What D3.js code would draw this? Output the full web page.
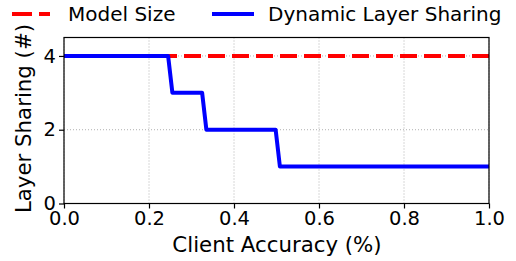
<!DOCTYPE html>
<html>
<head>
<meta charset="utf-8">
<script src="https://cdn.jsdelivr.net/npm/d3@7"></script>
<style>
  body { margin: 0; background: #fff; }
  text { font-family: "DejaVu Sans", sans-serif; fill: #000; }
</style>
</head>
<body>
<div id="chart"></div>
<script>
// values
var modelSize = [{x: 0, y: 4}, {x: 1, y: 4}]
var layerSharing = [
  {x: 0.0, y: 4}, {x: 0.245, y: 4}, {x: 0.255, y: 3},
  {x: 0.325, y: 3}, {x: 0.335, y: 2}, {x: 0.498, y: 2},
  {x: 0.508, y: 1}, {x: 1.0, y: 1}
]
var xTicks = [0, 0.2, 0.4, 0.6, 0.8, 1.0]
var yTicks = [0, 2, 4]
var legendItems = [
  {label: "Model Size", color: "#ff0000", dash: "20,7"},
  {label: "Dynamic Layer Sharing", color: "#0000ff", dash: null}
]

var W = 516, H = 261
var margin = {top: 37.5, right: 27, bottom: 57.5, left: 64},
    width = W - margin.left - margin.right,
    height = H - margin.top - margin.bottom

var svg = d3.select("#chart")
  .append("svg")
    .attr("width", W)
    .attr("height", H)

var g = svg.append("g")
    .attr("transform", "translate(" + margin.left + "," + margin.top + ")")

var x = d3.scaleLinear().domain([0, 1]).range([0, width])
var y = d3.scaleLinear().domain([0, 4.5]).range([height, 0])

// grid
g.append("g").selectAll("line")
  .data(xTicks)
  .enter().append("line")
    .attr("x1", d => x(d)).attr("x2", d => x(d))
    .attr("y1", 0).attr("y2", height)
    .attr("stroke", "#b0b0b0")
    .attr("stroke-width", 1)
    .attr("stroke-dasharray", "1,2")
g.append("g").selectAll("line")
  .data(yTicks)
  .enter().append("line")
    .attr("x1", 0).attr("x2", width)
    .attr("y1", d => y(d)).attr("y2", d => y(d))
    .attr("stroke", "#b0b0b0")
    .attr("stroke-width", 1)
    .attr("stroke-dasharray", "1,2")

// axes
var xAxis = g.append("g")
  .attr("transform", "translate(0," + height + ")")
  .call(d3.axisBottom(x).tickValues(xTicks).tickFormat(d3.format(".1f")).tickSizeOuter(0).tickSize(5).tickPadding(3))
var yAxis = g.append("g")
  .call(d3.axisLeft(y).tickValues(yTicks).tickFormat(d3.format("d")).tickSizeOuter(0).tickSize(5).tickPadding(3))

;[xAxis, yAxis].forEach(a => {
  a.selectAll("text").style("font-size", "19.5px").style("font-family", "DejaVu Sans")
  a.selectAll("line").attr("stroke", "#000").attr("stroke-width", 1.2)
  a.select(".domain").remove()
})

var line = d3.line().x(d => x(d.x)).y(d => y(d.y))

g.append("path")
  .datum(modelSize)
  .attr("d", line)
  .attr("fill", "none")
  .attr("stroke", "#ff0000")
  .attr("stroke-width", 4)
  .attr("stroke-dasharray", "17,7")

g.append("path")
  .datum(layerSharing)
  .attr("d", line)
  .attr("fill", "none")
  .attr("stroke", "#0000ff")
  .attr("stroke-width", 4)
  .attr("stroke-linejoin", "round")

// frame
g.append("rect")
  .attr("width", width).attr("height", height)
  .attr("fill", "none")
  .attr("stroke", "#000")
  .attr("stroke-width", 1.2)

// axis labels
svg.append("text")
  .attr("x", margin.left + width / 2 + 0.5)
  .attr("y", 252)
  .attr("text-anchor", "middle")
  .style("font-size", "21.3px")
  .text("Client Accuracy (%)")

svg.append("text")
  .attr("transform", "translate(31," + (margin.top + height / 2 - 2) + ") rotate(-90)")
  .attr("text-anchor", "middle")
  .style("font-size", "21.3px")
  .text("Layer Sharing (#)")

// legend
var legendX = [12, 212]
var legendLen = [38, 42]
var leg = svg.append("g")
legendItems.forEach((it, i) => {
  var lx = legendX[i]
  leg.append("line")
    .attr("x1", lx).attr("x2", lx + legendLen[i])
    .attr("y1", 14).attr("y2", 14)
    .attr("stroke", it.color)
    .attr("stroke-width", 4)
    .attr("stroke-dasharray", it.dash)
  leg.append("text")
    .attr("x", i == 0 ? 68 : 268)
    .attr("y", 21)
    .style("font-size", "20px")
    .text(it.label)
})
</script>
</body>
</html>
